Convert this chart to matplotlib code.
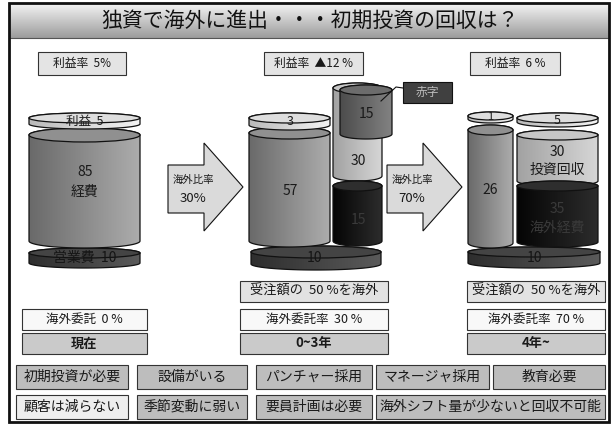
import numpy as np
import matplotlib.pyplot as plt
from matplotlib.patches import Rectangle, Ellipse, Polygon
from matplotlib.colors import LinearSegmentedColormap

plt.rcParams['font.family'] = ['Noto Sans CJK JP', 'DejaVu Sans']

# --- data ---
title = '独資で海外に進出・・・初期投資の回収は？'
stages = ['現在', '0~3年', '4年~']
profit_rate = ['利益率  5%', '利益率  ▲12 %', '利益率  6 %']
order_share = ['', '受注額の  50 %を海外', '受注額の  50 %を海外']
commission = ['海外委託  0 %', '海外委託率  30 %', '海外委託率  70 %']
overseas_ratio = ['30%', '70%']
notes_row1 = ['初期投資が必要', '設備がいる', 'パンチャー採用', 'マネージャ採用', '教育必要']
notes_row2 = ['顧客は減らない', '季節変動に弱い', '要員計画は必要', '海外シフト量が少ないと回収不可能']

# cylinder values per stage
now_vals = {'profit': 5, 'expense': 85, 'sales': 10}
mid_vals = {'profit': 3, 'domestic': 57, 'recover': 30, 'overseas': 15, 'deficit': 15, 'sales': 10}
late_vals = {'profit_a': 1, 'domestic': 26, 'profit_b': 5, 'recover': 30, 'overseas': 35, 'sales': 10}

fig = plt.figure(figsize=(6.11, 4.25), dpi=100)
ax = fig.add_axes([0, 0, 1, 1])
ax.axis('off')


def grad(patch, x0, x1, y0, y1, c0, c1, z, vertical=False):
    cmap = LinearSegmentedColormap.from_list('g', [c0, c1])
    g = np.linspace(0, 1, 64)
    g = g[:, None] if vertical else g[None, :]
    im = ax.imshow(g, cmap=cmap, extent=(x0, x1, y1, y0), aspect='auto',
                   zorder=z, interpolation='bilinear')
    im.set_clip_path(patch)


def cyl(x0, x1, yt, yb, ry, c0, c1, ctop, z):
    cx = (x0 + x1) / 2
    rx = (x1 - x0) / 2
    t = np.linspace(0, np.pi, 60)
    bot = np.column_stack([cx + rx * np.cos(t), yb + ry * np.sin(t)])
    top = np.column_stack([cx - rx * np.cos(t), yt - ry * np.sin(t)])
    body = Polygon(np.vstack([bot, top]), closed=True, fc='none', ec='#111', lw=0.9, zorder=z + 0.2)
    ax.add_patch(body)
    grad(body, x0, x1, yt - ry, yb + ry, c0, c1, z)
    ax.add_patch(Ellipse((cx, yt), 2 * rx, 2 * ry, fc=ctop, ec='#111', lw=0.9, zorder=z + 0.3))


def label(x, y, s, fs=10, color='#1a1a1a', bold=False):
    ax.text(x, y, s, ha='center', va='center', fontsize=fs, color=color,
            fontweight='bold' if bold else 'normal', zorder=20)


def box(x0, x1, y0, y1, s, fc, fs=9, bold=False):
    ax.add_patch(Rectangle((x0, y0), x1 - x0, y1 - y0, fc=fc, ec='#333', lw=0.8, zorder=5))
    label((x0 + x1) / 2, (y0 + y1) / 2, s, fs=fs, bold=bold)


# colour sets (left, right, top)
MID = ('#6a6a6a', '#acacac', '#909090')
LIGHT = ('#a2a2a2', '#d6d6d6', '#c6c6c6')
DARK = ('#050505', '#2c2c2c', '#2e2e2e')
RED = ('#4c4c4c', '#828282', '#6c6c6c')
BASE = ('#2e2e2e', '#5a5a5a', '#444444')
DISK = ('#bababa', '#f4f4f4', '#dedede')

# frame and title band
band = Rectangle((9, 3), 600, 35, fc='none', ec='none')
ax.add_patch(band)
grad(band, 9, 609, 3, 38, '#f4f4f4', '#9c9c9c', 1, vertical=True)
ax.plot([9, 609], [38, 38], color='#555', lw=0.8, zorder=2)
ax.add_patch(Rectangle((9, 3), 600, 419, fc='none', ec='#111', lw=2, zorder=30))
label(310, 21, title, fs=15, color='#111')

# profit rate boxes
for (x0, x1), s in zip([(38, 126), (264, 363), (470, 560)], profit_rate):
    box(x0, x1, 52, 75, s, '#e4e4e4', fs=8.5)

# stage 1 : now
cyl(29, 140, 253, 263, 5, *BASE, 1)
cyl(29, 140, 135, 241, 7, *MID, 2)
cyl(29, 140, 118, 124, 5, *DISK, 3)
label(85, 121, '利益  %d' % now_vals['profit'], fs=9)
label(85, 172, str(now_vals['expense']))
label(85, 192, '経費')
label(85, 258, '営業費  %d' % now_vals['sales'], color='#151515')

# stage 2 : 0-3 years
cyl(251, 381, 252, 264, 6, *BASE, 1)
cyl(249, 330, 133, 241, 6, *MID, 2)
cyl(249, 330, 118, 125, 5, *DISK, 3)
cyl(333, 382, 88, 176, 5, *LIGHT, 2)
cyl(333, 382, 186, 241, 5, *DARK, 3)
cyl(340, 392, 90, 134, 5, *RED, 4)
label(290, 121, str(mid_vals['profit']), fs=9)
label(290, 191, str(mid_vals['domestic']))
label(358, 161, str(mid_vals['recover']))
label(358, 220, str(mid_vals['overseas']), color='#3a3a3a')
label(366, 114, str(mid_vals['deficit']))
label(315, 258, str(mid_vals['sales']), color='#151515')
ax.plot([381, 396, 403], [101, 87, 88], color='#111', lw=0.8, zorder=6)
ax.add_patch(Rectangle((403, 82), 49, 21, fc='#404040', ec='#111', lw=0.8, zorder=5))
label(427.5, 92.5, '赤字', fs=8.5, color='#bdbdbd')

# stage 3 : 4 years on
cyl(468, 600, 252, 263, 5, *BASE, 1)
cyl(468, 513, 130, 243, 5, *MID, 2)
cyl(468, 513, 116, 119, 4, *DISK, 3)
cyl(517, 598, 135, 181, 5, *LIGHT, 2)
cyl(517, 598, 186, 242, 5, *DARK, 3)
cyl(517, 598, 118, 122, 5, *DISK, 3)
label(490, 117, str(late_vals['profit_a']), fs=8)
label(490, 190, str(late_vals['domestic']))
label(557, 120, str(late_vals['profit_b']), fs=9)
label(557, 152, str(late_vals['recover']))
label(557, 170, '投資回収')
label(557, 209, str(late_vals['overseas']), color='#3a3a3a')
label(557, 228, '海外経費', color='#3a3a3a')
label(534, 258, str(late_vals['sales']), color='#151515')

# arrows
for x0, s in zip([168, 387], overseas_ratio):
    pts = [(x0, 165), (x0 + 36, 165), (x0 + 36, 143), (x0 + 75, 187),
           (x0 + 36, 231), (x0 + 36, 213), (x0, 213)]
    ax.add_patch(Polygon(pts, closed=True, fc='#dadada', ec='#111', lw=0.8, zorder=5))
    label(x0 + 25, 180, '海外比率', fs=7.5)
    label(x0 + 25, 198, s, fs=9.5)

# stage boxes
stage_x = [(22, 147), (240, 388), (467, 605)]
for (x0, x1), s1, s2, s3 in zip(stage_x, order_share, commission, stages):
    if s1:
        box(x0, x1, 281, 302, s1, '#e2e2e2', fs=9.5)
    box(x0, x1, 309, 330, s2, '#f8f8f8', fs=9)
    box(x0, x1, 333, 354, s3, '#cacaca', fs=9.5, bold=True)

# notes
row1_x = [(16, 128), (137, 247), (256, 372), (376, 489), (493, 605)]
row2_x = [(16, 128), (137, 247), (256, 372), (376, 605)]
for (x0, x1), s in zip(row1_x, notes_row1):
    box(x0, x1, 365, 389, s, '#bdbdbd', fs=10)
for i, ((x0, x1), s) in enumerate(zip(row2_x, notes_row2)):
    box(x0, x1, 395, 419, s, '#eeeeee' if i == 0 else '#bdbdbd', fs=10)

ax.set_xlim(0, 611)
ax.set_ylim(425, 0)
fig.savefig('out.png', dpi=100)
